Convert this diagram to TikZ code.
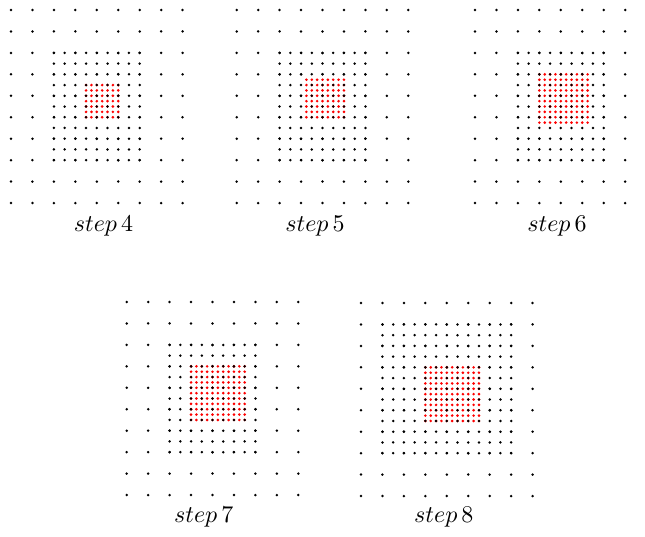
\documentclass[tikz,border=0pt]{standalone}
\newcommand{\dotpanel}[9]{%
  % #1 x0, #2 y0, #3 last coarse column, #4 medium col0, #5 medium col steps,
  % #6 medium row0, #7 medium row steps, #8 red start, #9 red last index
  \foreach \c in {0,...,#3}{\foreach \r in {0,...,9}{%
    \fill[bdot] (#1+\c*\sp, #2+\r*\sp) circle[radius=0.55pt];}}
  \foreach \i in {0,...,#9}{\foreach \j in {0,...,#9}{%
    \fill[rdot] (#1+#8*\sp+\i*\sp/4, #2+#8*\sp+\j*\sp/4) circle[radius=0.58pt];}}
  \foreach \i in {0,...,#5}{\foreach \j in {0,...,#7}{%
    \fill[bdot] (#1+#4*\sp+\i*\sp/2, #2+#6*\sp+\j*\sp/2) circle[radius=0.55pt];}}
}
\begin{document}
\begin{tikzpicture}[x=0.4pt,y=-0.4pt,
  bdot/.style={fill=black},
  rdot/.style={fill=red},
  lab/.style={anchor=base, scale=0.96}]
\useasboundingbox (0,0) rectangle (645,537);
\def\sp{21.45}
\dotpanel{11}{10}{8}{2}{8}{2}{10}{3.5}{6}
\dotpanel{236.7}{10}{8}{2}{8}{2}{10}{3.25}{7}
\dotpanel{475}{10}{7}{2}{8}{2}{10}{3}{9}
\dotpanel{126.7}{302}{8}{2}{8}{2}{10}{3}{10}
\dotpanel{361}{303}{8}{1}{12}{1}{12}{3}{10}
\node[lab] (l4) at (103.5,232) {$step\,4$};
\node[lab] (l5) at (315,232) {$step\,5$};
\node[lab] (l6) at (557,232) {$step\,6$};
\node[lab] (l7) at (203.7,522.5) {$step\,7$};
\node[lab] (l8) at (443.8,522.5) {$step\,8$};
\end{tikzpicture}
\end{document}
